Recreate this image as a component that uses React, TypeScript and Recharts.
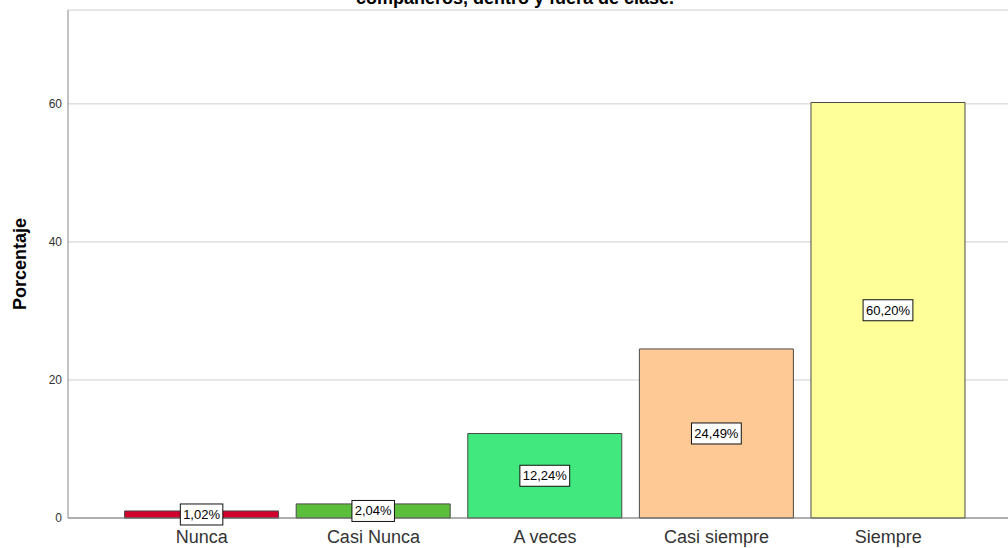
import { Bar, BarChart, CartesianGrid, Cell, LabelList, XAxis, YAxis } from 'recharts';

const categories = ['Nunca', 'Casi Nunca', 'A veces', 'Casi siempre', 'Siempre'];
const percentages = [1.02, 2.04, 12.24, 24.49, 60.2];
const barColors = ['#d2002c', '#5cbf3b', '#40e87d', '#ffc996', '#ffff9a'];
const yTicks = [0, 20, 40, 60];

const FONT = 'Arial, "Liberation Sans", sans-serif';

const data = categories.map((name, i) => ({ name, value: percentages[i] }));

function formatPct(v: number) {
  return `${v.toFixed(2).replace('.', ',')}%`;
}

function BoxLabel(props: any) {
  const { x, y, width, height, value } = props;
  const text = formatPct(Number(value));
  const cx = Number(x) + Number(width) / 2;
  const cy = Number(y) + Number(height) / 2;
  const w = text.length * 7.3 + 6;
  const h = 21;
  return (
    <g>
      <rect x={cx - w / 2} y={cy - h / 2} width={w} height={h} fill="#ffffff" stroke="#111" strokeWidth={1} />
      <text x={cx} y={cy + 4.5} textAnchor="middle" fontSize={13} fontFamily={FONT} fill="#000">
        {text}
      </text>
    </g>
  );
}

export default function App() {
  return (
    <div style={{ position: 'fixed', left: 0, top: 0, width: 1008, height: 548, overflow: 'hidden', background: '#fff' }}>
      <div
        style={{
          position: 'absolute',
          left: 0,
          top: -11,
          width: 1030,
          textAlign: 'center',
          fontFamily: FONT,
          fontWeight: 'bold',
          fontSize: 18,
          lineHeight: '18px',
          color: '#000',
        }}
      >
        compañeros, dentro y fuera de clase.
      </div>
      <BarChart
        width={1030}
        height={548}
        data={data}
        margin={{ top: 10, right: 8, bottom: 0, left: 0 }}
        barCategoryGap="5%"
      >
        <CartesianGrid vertical={false} stroke="#cfcfcf" />
        <XAxis
          dataKey="name"
          height={30}
          padding={{ left: 48, right: 48 }}
          tickLine={false}
          tickSize={4}
          tickMargin={8}
          axisLine={{ stroke: '#777' }}
          tick={{ fontSize: 18, fill: '#333', fontFamily: FONT }}
          interval={0}
        />
        <YAxis
          width={68}
          domain={[0, 73.6]}
          ticks={yTicks}
          tickLine={false}
          tickSize={4}
          tickMargin={2}
          axisLine={{ stroke: '#888' }}
          tick={{ fontSize: 12, fill: '#333', fontFamily: FONT }}
          label={{
            value: 'Porcentaje',
            angle: -90,
            position: 'insideLeft',
            offset: 20,
            style: { fontSize: 18, fontWeight: 'bold', fill: '#000', fontFamily: FONT, textAnchor: 'middle' },
          }}
        />
        <Bar dataKey="value" stroke="#4a4a4a" strokeWidth={1} isAnimationActive={false}>
          {data.map((d, i) => (
            <Cell key={d.name} fill={barColors[i]} />
          ))}
          <LabelList dataKey="value" content={BoxLabel} />
        </Bar>
      </BarChart>
    </div>
  );
}
